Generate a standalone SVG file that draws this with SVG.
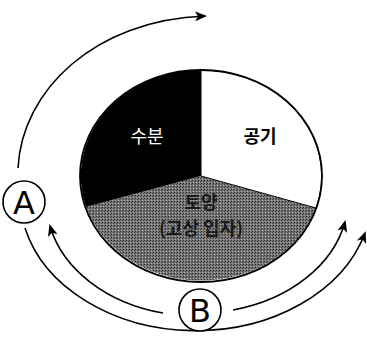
<svg xmlns="http://www.w3.org/2000/svg" width="367" height="339" viewBox="0 0 367 339">
<defs>
<marker id="ah" viewBox="0 0 12 10" refX="10" refY="5" markerWidth="12" markerHeight="10" markerUnits="userSpaceOnUse" orient="auto">
<path d="M0,0 L12,5 L0,10 L3,5 Z" fill="#000"/>
</marker>
<pattern id="dots" width="3" height="3" patternUnits="userSpaceOnUse">
<rect width="3" height="3" fill="#777"/>
<rect x="0" y="0" width="1" height="1" fill="#222"/>
<rect x="2" y="1" width="1" height="1" fill="#444"/>
<rect x="1" y="2" width="1" height="1" fill="#aaa"/>
</pattern>
</defs>
<style>
.arc{fill:none;stroke:#000;stroke-width:1.6}
.lbl{font-family:"Noto Sans CJK KR","Noto Sans",sans-serif;font-size:18px;text-anchor:middle}
.let{font-family:"DejaVu Sans","Liberation Sans",sans-serif;font-size:32px;font-weight:normal;text-anchor:middle}
.ring{fill:#fff;stroke:#000;stroke-width:1.6}
</style>
<rect width="367" height="339" fill="#fff"/>
<g id="pie">
<g id="soil">
<path d="M201,176 L86,207 A121,106 0 0,0 316,208 Z" fill="url(#dots)"/>
<text class="lbl" x="201" y="209" font-weight="bold" fill="#1a1a1a">토양</text>
<text class="lbl" x="201" y="235" font-weight="bold" fill="#1a1a1a">(고상 입자)</text>
</g>
<g id="water">
<path d="M201,176 L201,70 A121,106 0 0,0 86,207 Z" fill="#000"/>
<text class="lbl" x="147" y="143" fill="#fff">수분</text>
</g>
<g id="air">
<path d="M201,176 L201,70 A121,106 0 0,1 316,208 Z" fill="#fff" stroke="#000" stroke-width="1"/>
<text class="lbl" x="260" y="143" font-weight="bold" fill="#000">공기</text>
</g>
<ellipse cx="201" cy="176" rx="121" ry="106" fill="none" stroke="#000" stroke-width="1.8"/>
</g>
<g id="connectors">
<path class="arc" d="M18,168 C22,90 95,20 205,16" marker-end="url(#ah)"/>
<path class="arc" d="M25,228 A176,135 0 0,0 365,233" marker-end="url(#ah)"/>
<path class="arc" d="M163,313 A150,115 0 0,1 50,226" marker-end="url(#ah)"/>
<path class="arc" d="M233,310 A150,115 0 0,0 345,222" marker-end="url(#ah)"/>
</g>
<g id="A">
<circle class="ring" cx="24" cy="202" r="21"/>
<text class="let" x="24" y="213.5">A</text>
</g>
<g id="B">
<circle class="ring" cx="200" cy="310" r="21"/>
<text class="let" x="200" y="321.5">B</text>
</g>
</svg>
